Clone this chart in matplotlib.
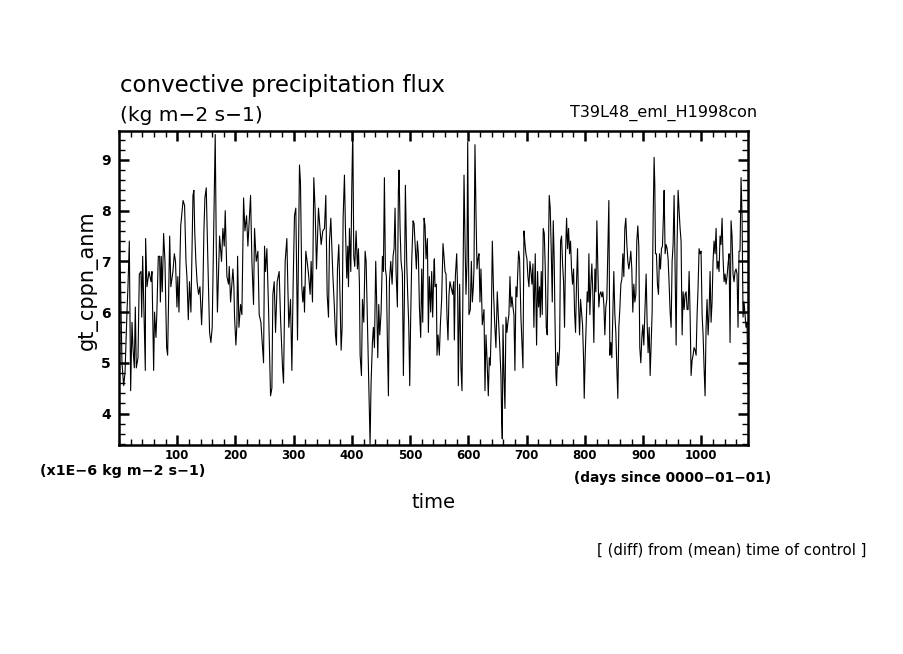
import matplotlib

matplotlib.use("Agg")
import matplotlib.pyplot as plt
import numpy as np
from matplotlib.ticker import MultipleLocator

# values, days since 0000-01-01 / x1E-6 kg m-2 s-1
days_a = [
    0.5, 2.3, 5.1, 8.0, 10.3, 13.7, 15.4, 17.7, 20.0, 22.3,
    24.0, 26.3, 28.0, 29.7, 32.6, 34.9, 37.7, 39.0, 40.6, 45.2,
    45.7, 48.0, 51.5, 55.0, 56.6, 59.5, 61.0, 63.5, 65.0, 67.5,
    69.8, 71.0, 72.6, 74.3, 76.6, 78.9, 81.8, 83.5, 85.0, 87.0,
    89.0, 92.6, 95.0, 97.0, 99.5, 101.0, 103.0, 104.6, 106.0, 110.0,
    112.6, 115.0, 116.6, 119.0, 121.0, 123.5, 127.0, 128.6, 130.0, 132.0,
    134.0, 136.6, 139.0, 141.8, 144.0, 145.8, 147.5, 149.8, 152.0, 155.5,
    157.8, 160.0, 162.4, 165.2, 167.0, 169.0, 172.7, 176.0, 178.4, 180.7,
]
flux_a = [
    7.05, 6.8, 5.0, 4.55, 4.8, 6.0, 6.5, 7.4, 4.45, 5.8,
    5.3, 4.9, 6.1, 4.9, 5.1, 6.75, 6.8, 5.9, 7.1, 4.85,
    7.45, 6.5, 6.8, 6.6, 6.8, 4.85, 6.0, 5.5, 6.0, 7.1,
    7.1, 6.2, 7.1, 6.4, 7.55, 7.0, 5.3, 5.15, 6.2, 7.5,
    6.5, 6.8, 7.15, 7.0, 6.1, 6.7, 6.0, 7.0, 7.7, 8.2,
    8.1, 7.0, 6.7, 5.85, 6.6, 6.0, 8.3, 8.4, 7.6, 7.0,
    6.6, 6.35, 6.5, 5.75, 6.4, 7.6, 8.25, 8.45, 7.3, 5.6,
    5.4, 5.7, 7.5, 9.5, 7.3, 6.0, 7.5, 7.0, 7.65, 7.3,
]

days_b = [
    182.4, 185.3, 188.1, 189.3, 191.6, 195.6, 197.3, 198.4, 200.7, 202.4,
    203.6, 205.9, 208.7, 211.0, 213.9, 216.2, 219.0, 221.3, 225.9, 228.2,
    231.0, 232.7, 235.6, 238.5, 240.7, 243.6, 245.3, 248.2, 249.9, 251.6,
    253.9, 256.7, 260.2, 262.5, 264.2, 266.5, 268.8, 271.6, 275.0, 277.3,
    280.8, 282.5, 285.3, 288.2, 289.9, 291.6, 294.5, 296.8, 299.0, 301.3,
    303.6, 306.5, 309.9, 311.6, 313.9, 315.6, 317.4, 318.5, 320.8, 323.0,
    325.4, 328.2, 329.9, 332.2, 334.5, 336.8, 339.1, 342.5, 344.8, 347.1,
    349.9, 352.8, 355.1, 357.4, 359.7, 361.4,
]
flux_b = [
    8.0, 6.7, 6.55, 6.9, 6.2, 6.85, 6.5, 5.9, 5.35, 5.75,
    7.1, 5.7, 6.15, 5.95, 8.25, 7.6, 7.9, 7.3, 8.3, 7.0,
    6.15, 7.65, 7.0, 7.2, 5.95, 5.8, 5.5, 5.0, 7.3, 6.8,
    7.25, 6.1, 4.35, 4.5, 6.35, 6.6, 5.6, 6.6, 6.8, 5.9,
    4.9, 4.6, 7.0, 7.45, 6.5, 5.7, 6.25, 4.85, 6.55, 7.9,
    8.05, 5.45, 8.9, 8.55, 6.5, 6.2, 6.5, 6.0, 7.2, 7.0,
    6.75, 6.35, 7.0, 6.2, 8.65, 8.0, 6.85, 8.05, 7.7, 7.33,
    7.6, 7.65, 8.3, 6.35, 5.9, 7.4,
]

days_c = [
    363.7, 365.4, 367.1, 369.4, 371.7, 373.4, 375.1, 377.4, 379.7, 381.4,
    383.1, 384.8, 387.1, 388.8, 391.1, 392.8, 394.0, 395.7, 398.0, 399.7,
    401.4, 403.1, 404.8, 407.1, 409.4, 411.1, 412.8, 414.0, 416.3, 418.0,
    420.3, 422.6, 424.3, 427.1, 428.8, 431.1, 432.8, 435.1, 436.8, 438.6,
    440.8, 442.6, 444.3, 446.0, 447.7, 450.0, 452.3, 454.0, 455.7, 457.4,
    459.1, 460.9, 462.6, 464.3, 466.6, 468.9, 470.6, 472.3, 474.0, 475.7,
    478.0, 479.7, 480.9, 482.6, 484.3, 486.6, 488.3, 490.0, 491.7, 494.0,
    495.7, 497.5, 499.2, 500.9, 502.6, 504.9, 506.6, 508.9, 510.6, 512.3,
    514.0, 515.8, 518.0, 519.8, 521.5, 523.8, 525.5, 527.2, 529.5, 531.2,
    532.9, 535.2, 536.9, 538.6, 540.9,
]
flux_c = [
    7.85, 7.3, 6.75, 6.2, 5.55, 5.35, 6.85, 7.33, 6.2, 5.25,
    5.7, 7.85, 8.7, 7.65, 6.67, 7.3, 6.5, 7.65, 6.8, 8.45,
    9.6, 7.1, 6.9, 7.6, 6.85, 7.25, 6.55, 5.15, 4.75, 6.25,
    5.8, 7.2, 7.0, 5.55, 4.6, 3.4, 4.6, 5.4, 5.7, 5.3,
    7.0, 6.1, 5.1, 6.15, 5.55, 6.0, 7.1, 6.8, 8.65, 6.85,
    6.7, 5.35, 4.35, 6.6, 7.0, 6.55, 7.1, 7.25, 8.05, 6.8,
    6.1, 8.4, 8.8, 7.65, 7.0, 6.75, 4.75, 6.25, 8.5, 7.0,
    6.35, 5.75, 4.55, 5.95, 7.0, 7.8, 7.75, 7.25, 6.85, 7.4,
    7.15, 6.1, 5.5, 6.85, 5.8, 7.85, 7.7, 7.05, 7.45, 5.6,
    6.7, 6.0, 6.8, 5.9, 7.0,
]

days_d = [
    541.5, 542.6, 544.9, 546.0, 547.8, 550.0, 551.8, 554.0, 556.3, 558.0,
    559.8, 561.5, 563.2, 564.9, 566.6, 568.3, 570.0, 572.9, 574.6, 575.8,
    577.5, 579.8, 581.5, 582.6, 584.9, 587.2, 588.9, 590.6, 592.4, 594.1,
    595.8, 597.5, 598.7, 599.8, 600.9, 603.2, 605.0, 606.7, 608.4, 609.5,
    611.2, 612.9, 614.7, 616.4, 618.1, 619.8, 621.5, 623.8, 626.7, 628.4,
    630.1, 631.8, 634.1, 635.8, 637.5, 639.2, 641.0, 643.2, 645.0, 647.2,
    649.5, 651.2, 653.5, 655.8, 657.0, 658.1, 659.3, 661.0, 662.7, 664.4,
    666.1, 667.8, 669.5, 671.3, 673.0, 674.7, 676.4, 678.1, 679.8, 681.6,
    683.3, 684.4, 686.1, 687.8, 690.1, 691.8, 693.6, 695.3, 697.0, 698.7,
    700.4, 702.1, 703.9, 705.6, 707.3, 709.0, 710.7, 712.4, 714.7, 717.0,
    718.7, 720.4,
]
flux_d = [
    7.05, 6.5, 6.55, 5.15, 5.55, 5.15, 5.75, 6.25, 7.35, 7.1,
    6.8, 6.75, 5.9, 5.45, 6.35, 6.6, 6.5, 6.35, 6.6, 5.45,
    6.7, 7.15, 6.4, 4.55, 6.55, 4.9, 4.45, 6.6, 8.7, 7.4,
    6.35, 7.0, 9.35, 7.65, 5.95, 6.05, 7.0, 6.2, 6.5, 6.85,
    9.3, 8.0, 6.85, 7.05, 7.15, 6.2, 6.85, 5.75, 6.05, 4.45,
    5.55, 5.1, 4.35, 5.1, 4.95, 5.75, 7.4, 6.35, 5.8, 5.3,
    6.4, 5.95, 5.4, 4.75, 3.9, 3.5, 5.75, 4.75, 4.1, 5.9,
    5.6, 5.8, 5.95, 6.7, 6.1, 6.3, 6.1, 5.95, 4.85, 6.5,
    6.3, 6.7, 7.2, 7.05, 5.9, 5.4, 4.9, 7.6, 7.35, 7.15,
    7.05, 6.7, 6.5, 7.0, 6.8, 6.55, 6.95, 5.7, 7.15, 5.35,
    6.8, 6.1,
]

days_e = [
    722.1, 723.3, 725.0, 726.7, 728.4, 730.2, 731.9, 733.6, 735.3, 737.0,
    738.7, 740.4, 742.2, 743.9, 745.6, 747.3, 748.4, 750.2, 751.3, 753.0,
    754.7, 756.5, 758.2, 759.9, 761.6, 763.3, 765.0, 766.7, 768.5, 770.2,
    771.9, 773.6, 775.3, 777.0, 778.7, 780.5, 782.2, 783.9, 785.6, 787.3,
    789.0, 790.8, 792.5, 794.2, 795.9, 797.6, 798.8, 800.5, 802.2, 803.9,
    805.6, 806.8, 808.5, 810.2, 811.9, 813.6, 815.3, 817.1, 818.8, 820.5,
    822.2, 823.9, 825.6, 827.3, 829.1, 830.8, 832.5, 834.2, 835.9, 837.6,
    839.4, 841.1, 842.8, 844.5, 846.2, 847.9, 849.6, 851.4, 853.1, 854.8,
    856.5, 858.2, 859.9, 861.7, 863.4, 865.1, 866.8, 868.5, 870.2, 872.0,
    873.7, 875.4, 877.1, 878.8, 880.5, 882.2, 884.0, 885.7, 887.4, 889.1,
    890.8, 892.5, 894.2, 896.0, 897.7, 899.4, 901.1,
]
flux_e = [
    6.5, 5.9, 6.8, 5.95, 7.65, 7.55, 6.85, 5.7, 5.55, 6.95,
    8.3, 8.05, 7.2, 6.2, 7.8, 7.0, 6.0, 4.75, 4.55, 5.2,
    4.95, 5.3, 7.4, 7.5, 6.95, 6.6, 5.7, 7.15, 7.85, 7.25,
    7.65, 7.15, 7.4, 6.85, 6.55, 6.85, 6.0, 5.6, 6.6, 7.25,
    6.2, 5.55, 6.25, 6.0, 5.75, 5.1, 4.3, 5.15, 5.8, 6.4,
    6.2, 7.15, 5.95, 6.55, 6.95, 6.35, 5.4, 6.85, 6.4, 7.8,
    6.85, 6.1, 6.35, 6.4, 6.3, 6.4, 6.15, 5.55, 6.1, 6.25,
    7.25, 8.2, 5.15, 5.4, 5.1, 5.95, 6.8, 5.95, 5.6, 4.9,
    4.3, 5.7, 6.05, 6.55, 6.65, 7.15, 6.7, 7.65, 7.85, 7.33,
    7.0, 6.85, 7.0, 7.2, 6.85, 6.0, 6.55, 6.2, 6.35, 7.4,
    7.7, 7.3, 5.3, 5.0, 5.5, 5.75, 5.35,
]

days_f = [
    903.4, 905.1, 906.8, 908.5, 910.3, 912.0, 913.7, 915.4, 917.1, 918.8,
    920.0, 921.1, 922.8, 924.5, 926.3, 928.0, 929.7, 931.4, 933.1, 934.8,
    936.0, 937.7, 939.4, 941.1, 942.8, 944.6, 946.3, 948.0, 949.7, 951.4,
    953.1, 954.8, 956.6, 958.3, 960.0, 961.7, 963.4, 965.1, 966.9, 968.6,
    970.3, 972.0, 973.7, 975.4, 977.1, 978.9, 980.6, 982.3, 984.0, 985.7,
    987.4, 989.2, 990.9, 992.6, 994.3, 996.0, 997.7, 999.4, 1001.2, 1002.9,
    1004.6, 1006.3, 1008.0, 1009.7, 1011.5, 1013.2, 1014.9, 1016.6, 1018.3, 1020.0,
    1021.7, 1023.5, 1025.2, 1026.9, 1028.6, 1030.3, 1032.0, 1033.7, 1035.5, 1037.2,
    1038.9, 1040.6, 1042.3, 1044.0, 1045.8, 1047.5, 1049.2, 1050.9, 1052.6, 1054.3,
    1056.0, 1057.8, 1059.5, 1061.2, 1062.9, 1064.6, 1066.3, 1068.1, 1069.8, 1071.5,
    1073.2, 1074.9, 1076.6, 1078.3, 1080.0,
]
flux_f = [
    6.15, 6.75, 5.8, 5.2, 5.7, 4.75, 5.35, 6.0, 7.8, 9.05,
    8.5, 7.15, 7.15, 6.55, 6.35, 7.15, 6.85, 7.25, 7.3, 7.9,
    8.4, 7.15, 7.33, 7.25, 7.05, 6.55, 6.0, 5.7, 7.0, 7.33,
    8.3, 6.85, 5.35, 7.4, 8.4, 8.0, 7.65, 7.4, 5.55, 6.4,
    6.05, 6.35, 6.4, 6.05, 6.05, 6.8, 5.95, 4.75, 5.05, 5.15,
    5.3, 5.25, 5.15, 5.95, 6.5, 7.25, 7.15, 7.2, 5.95, 5.55,
    4.9, 4.35, 5.7, 6.25, 5.55, 6.0, 6.8, 5.8, 6.2, 7.0,
    7.4, 7.15, 7.65, 6.85, 7.0, 6.8, 7.5, 7.33, 7.85, 7.05,
    6.6, 6.75, 6.55, 6.7, 6.95, 7.15, 5.4, 7.8, 7.5, 6.75,
    6.6, 6.8, 6.85, 6.75, 5.7, 7.2, 7.2, 8.65, 7.9, 5.9,
    6.2, 5.95, 5.7, 5.8, 4.55,
]

x_ticks = [100, 200, 300, 400, 500, 600, 700, 800, 900, 1000]
y_ticks = [4, 5, 6, 7, 8, 9]

W, H = 904, 654


def fx(px):
    return px / W


def fy(py):
    return 1 - py / H


def main():
    days = np.concatenate([days_a, days_b, days_c, days_d, days_e, days_f])
    flux = np.concatenate([flux_a, flux_b, flux_c, flux_d, flux_e, flux_f])

    fig = plt.figure(figsize=(W / 100, H / 100), dpi=100)
    ax = fig.add_axes([fx(119), fy(445), fx(748) - fx(119), fy(131) - fy(445)])

    ax.plot(days, flux, color="black", linewidth=0.8)

    ax.set_xlim(0, 1080)
    ax.set_ylim(3.38, 9.57)
    ax.set_xticks(x_ticks)
    ax.set_yticks(y_ticks)
    ax.xaxis.set_minor_locator(MultipleLocator(20))
    ax.yaxis.set_minor_locator(MultipleLocator(0.2))
    ax.tick_params(which="both", direction="in", top=True, right=True)
    ax.tick_params(which="major", length=7, width=1.8)
    ax.tick_params(which="minor", length=4, width=1.0)
    ax.tick_params(axis="x", which="major", labelsize=8.5, pad=3)
    ax.tick_params(axis="y", which="major", labelsize=10, pad=6)
    for label in ax.get_xticklabels() + ax.get_yticklabels():
        label.set_fontweight("bold")
    for spine in ax.spines.values():
        spine.set_linewidth(1.8)

    fig.text(fx(120), fy(92), "convective precipitation flux", fontsize=16.5,
             va="baseline", ha="left")
    fig.text(fx(120), fy(121), "(kg m\u22122 s\u22121)", fontsize=14.5,
             va="baseline", ha="left")
    fig.text(fx(757), fy(113), "T39L48_eml_H1998con", fontsize=11.5,
             va="center", ha="right")

    fig.text(fx(88), fy(280), "gt_cppn_anm", fontsize=15, rotation=90,
             va="center", ha="center")
    fig.text(fx(434), fy(502), "time", fontsize=14, va="center", ha="center")

    fig.text(fx(40), fy(471), "(x1E\u22126 kg m\u22122 s\u22121)", fontsize=10.3,
             fontweight="bold", va="center", ha="left")
    fig.text(fx(771), fy(478), "(days since 0000\u221201\u221201)", fontsize=9.9,
             fontweight="bold", va="center", ha="right")
    fig.text(fx(866), fy(550), "[ (diff) from (mean) time of control ]",
             fontsize=10.7, va="center", ha="right")

    fig.savefig("out.png", dpi=100)
    plt.close(fig)


if __name__ == "__main__":
    main()
